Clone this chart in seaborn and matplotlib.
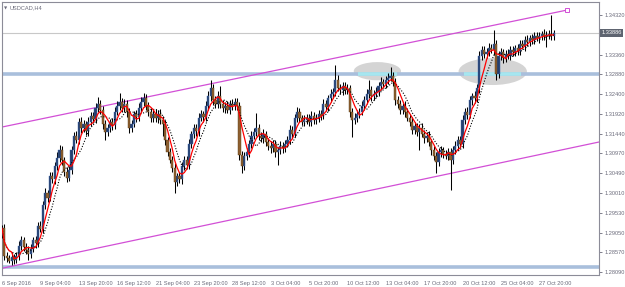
import numpy as np
import pandas as pd
import matplotlib
matplotlib.use('Agg')
import matplotlib.pyplot as plt
import seaborn as sns
from matplotlib.patches import Ellipse

# USDCAD H4, 6 Sep 2016 12:00 .. 28 Oct 2016 20:00
symbol = "USDCAD,H4"
first_open = 1.2900
closes = [
    1.2916, 1.2849, 1.2844, 1.2836, 1.2846, 1.2839, 1.2849, 1.2873, 1.2887, 1.2870,
    1.2863, 1.2853, 1.2866, 1.2887, 1.2880, 1.2921, 1.2915, 1.2972, 1.3001, 1.2990,
    1.3042, 1.3035, 1.3066, 1.3086, 1.3105, 1.3081, 1.3052, 1.3037, 1.3057, 1.3105,
    1.3139, 1.3130, 1.3173, 1.3158, 1.3168, 1.3150, 1.3173, 1.3188, 1.3180, 1.3207,
    1.3217, 1.3202, 1.3168, 1.3149, 1.3158, 1.3173, 1.3165, 1.3197, 1.3212, 1.3221,
    1.3207, 1.3217, 1.3197, 1.3158, 1.3168, 1.3192, 1.3185, 1.3207, 1.3221, 1.3231,
    1.3212, 1.3197, 1.3183, 1.3192, 1.3183, 1.3192, 1.3178, 1.3168, 1.3129, 1.3100,
    1.3081, 1.3062, 1.3028, 1.3042, 1.3035, 1.3066, 1.3081, 1.3070, 1.3120, 1.3144,
    1.3158, 1.3150, 1.3183, 1.3192, 1.3185, 1.3212, 1.3236, 1.3255, 1.3226, 1.3217,
    1.3236, 1.3217, 1.3207, 1.3212, 1.3202, 1.3217, 1.3212, 1.3221, 1.3212, 1.3093,
    1.3066, 1.3091, 1.3100, 1.3120, 1.3139, 1.3149, 1.3158, 1.3139, 1.3134, 1.3144,
    1.3125, 1.3115, 1.3110, 1.3120, 1.3100, 1.3105, 1.3115, 1.3110, 1.3120, 1.3129,
    1.3154, 1.3145, 1.3183, 1.3197, 1.3183, 1.3173, 1.3178, 1.3183, 1.3173, 1.3188,
    1.3178, 1.3183, 1.3192, 1.3188, 1.3217, 1.3210, 1.3231, 1.3241, 1.3246, 1.3275,
    1.3255, 1.3250, 1.3260, 1.3250, 1.3255, 1.3197, 1.3178, 1.3183, 1.3192, 1.3197,
    1.3212, 1.3226, 1.3241, 1.3250, 1.3236, 1.3241, 1.3246, 1.3260, 1.3270, 1.3265,
    1.3275, 1.3280, 1.3284, 1.3270, 1.3226, 1.3217, 1.3202, 1.3212, 1.3197, 1.3183,
    1.3173, 1.3154, 1.3163, 1.3149, 1.3158, 1.3144, 1.3134, 1.3139, 1.3125, 1.3105,
    1.3091, 1.3076, 1.3100, 1.3105, 1.3096, 1.3091, 1.3100, 1.3081, 1.3105, 1.3115,
    1.3129, 1.3120, 1.3178, 1.3197, 1.3190, 1.3226, 1.3236, 1.3230, 1.3255, 1.3333,
    1.3347, 1.3338, 1.3342, 1.3352, 1.3347, 1.3362, 1.3289, 1.3333, 1.3342, 1.3328,
    1.3338, 1.3333, 1.3347, 1.3342, 1.3352, 1.3345, 1.3362, 1.3357, 1.3372, 1.3367,
    1.3376, 1.3372, 1.3381, 1.3376, 1.3381, 1.3386, 1.3381, 1.3384, 1.3386, 1.3381,
    1.3388,
]
# wick lengths in pips above / below the candle body
upper_wick = [
    8, 10, 9, 7, 11, 8, 10, 12, 9, 8,   10, 9, 11, 8, 10, 9, 12, 10, 11, 8,
    10, 9, 11, 15, 12, 10, 8, 11, 10, 9, 10, 12, 9, 11, 10, 8, 11, 10, 9, 12,
    16, 10, 9, 11, 10, 8, 10, 12, 11, 22, 10, 12, 9, 10, 11, 8, 10, 11, 12, 12,
    10, 9, 11, 10, 12, 10, 12, 9, 10, 8, 10, 9, 11, 8, 10, 11, 9, 10, 11, 8,
    10, 9, 11, 10, 8, 11, 12, 20, 10, 9, 11, 25, 10, 9, 11, 10, 12, 11, 10, 9,
    10, 9, 11, 10, 12, 10, 37, 9, 10, 11, 8, 10, 11, 9, 10, 8, 11, 10, 9, 10,
    11, 10, 9, 12, 10, 8, 11, 10, 9, 11, 10, 9, 11, 10, 12, 10, 8, 11, 10, 36,
    12, 10, 11, 9, 10, 8, 10, 11, 9, 10, 11, 10, 12, 25, 10, 9, 11, 10, 12, 8,
    10, 11, 22, 10, 9, 11, 10, 8, 11, 10, 9, 11, 10, 8, 10, 12, 9, 10, 11, 8,
    10, 9, 11, 10, 8, 10, 11, 9, 10, 11, 10, 9, 11, 10, 12, 10, 8, 11, 10, 12,
    10, 11, 9, 12, 10, 34, 9, 11, 10, 8, 10, 11, 9, 10, 8, 11, 10, 9, 10, 11,
    8, 10, 9, 11, 10, 8, 11, 10, 9, 46, 8,
]
lower_wick = [
    8, 10, 11, 5, 10, 9, 8, 10, 11, 10,   9, 14, 10, 8, 11, 10, 9, 12, 10, 11,
    8, 10, 11, 9, 10, 12, 11, 10, 8, 11,  10, 9, 11, 12, 10, 8, 11, 10, 9, 10,
    11, 10, 12, 20, 10, 9, 11, 10, 8, 11, 10, 9, 11, 12, 10, 8, 11, 10, 9, 10,
    11, 10, 9, 11, 10, 12, 10, 30, 11, 10, 8, 11, 27, 10, 9, 11, 10, 8, 11, 10,
    9, 11, 10, 8, 11, 10, 9, 11, 12, 10,  9, 11, 10, 12, 8, 10, 11, 9, 10, 12,
    17, 10, 9, 11, 10, 8, 11, 10, 9, 11,  10, 9, 11, 10, 12, 31, 9, 11, 10, 8,
    10, 11, 9, 10, 11, 8, 10, 11, 9, 10,  11, 9, 10, 11, 8, 10, 11, 9, 10, 11,
    8, 10, 11, 9, 10, 12, 41, 9, 11, 10,  8, 11, 10, 9, 11, 10, 8, 11, 10, 9,
    10, 11, 8, 10, 12, 11, 9, 10, 11, 8,  10, 11, 9, 10, 44, 8, 11, 10, 9, 11,
    10, 27, 9, 11, 10, 8, 11, 73, 10, 9,  11, 10, 9, 11, 10, 8, 11, 10, 9, 11,
    10, 9, 11, 10, 8, 11, 14, 10, 9, 11,  10, 8, 11, 10, 9, 11, 10, 8, 11, 10,
    9, 11, 10, 8, 11, 10, 9, 26, 10, 9,  10,
]
price_ticks = [1.34320, 1.33840, 1.33360, 1.32880, 1.32400, 1.31920, 1.31440,
               1.30970, 1.30490, 1.30010, 1.29530, 1.29050, 1.28570, 1.28090]
time_labels = ["6 Sep 2016", "9 Sep 04:00", "13 Sep 20:00", "16 Sep 12:00",
               "21 Sep 04:00", "23 Sep 20:00", "28 Sep 12:00", "3 Oct 04:00",
               "5 Oct 20:00", "10 Oct 12:00", "13 Oct 04:00", "17 Oct 20:00",
               "20 Oct 12:00", "25 Oct 04:00", "27 Oct 20:00"]
bars_per_label = 16
last_price = 1.33886
# drawn objects: horizontal levels, channel lines (bar, price), zones (bar, price, bars wide, price tall)
levels = [1.3288, 1.2823]
channel_top = ([0.2, 235.6], [1.3161, 1.3444])
channel_bottom = ([0.2, 248.9], [1.2819, 1.31245])
zones = [(156.5, 1.3296, 19.7, 0.0044), (204.6, 1.3295, 28.5, 0.0065)]

df = pd.DataFrame({"close": closes})
df["bar"] = np.arange(len(df))
df["open"] = df["close"].shift(1).fillna(first_open)
df["high"] = df[["open", "close"]].max(axis=1) + np.array(upper_wick) / 1e4
df["low"] = df[["open", "close"]].min(axis=1) - np.array(lower_wick) / 1e4
df["ma_fast"] = df["close"].rolling(5, min_periods=1).mean()
df["ma_slow"] = df["close"].rolling(8, min_periods=1).mean()

sns.set_style("white")
plt.rcParams['font.family'] = ['Liberation Sans', 'DejaVu Sans']

fig = plt.figure(figsize=(6.25, 2.87), dpi=100)
ax = fig.add_axes([2 / 625, 12 / 287, 597 / 625, 273 / 287])

for cx, cy, w, h in zones:
    ax.add_patch(Ellipse((cx, cy), w, h, facecolor='#d4d4d4', edgecolor='none', zorder=1))
for lv in levels:
    ax.axhline(lv, color='#a9bfdc', lw=2.6, zorder=1.5)
for cx, cy, w, h in zones:
    ax.hlines(levels[0], cx - w * 0.42, cx + w * 0.42, color='#a6e6ef', lw=2.6, zorder=1.6)
ax.axhline(last_price, color='#c8c8c8', lw=0.8, zorder=1.4)

magenta = '#d24fd6'
ax.plot(*channel_top, color=magenta, lw=0.9, zorder=2)
ax.plot(channel_top[0][-1], channel_top[1][-1], marker='s', ms=3, mfc='white', mec=magenta, mew=0.7, zorder=2)
ax.plot(*channel_bottom, color=magenta, lw=0.9, zorder=2)

# candles
ax.vlines(df["bar"], df["low"], df["high"], color='black', lw=0.75, zorder=3)
bull = df[df["close"] >= df["open"]]
bear = df[df["close"] < df["open"]]
ax.bar(bull["bar"], bull["close"] - bull["open"], bottom=bull["open"], width=0.9,
       color='#27406e', edgecolor='#3d67b0', lw=0.3, zorder=4)
ax.bar(bear["bar"], bear["close"] - bear["open"], bottom=bear["open"], width=0.9,
       color='#8e6030', edgecolor='#5a3a14', lw=0.3, zorder=4)

sns.lineplot(data=df, x="bar", y="ma_slow", color='black', lw=0.8, linestyle=(0, (1, 1.5)), ax=ax, zorder=5)
sns.lineplot(data=df, x="bar", y="ma_fast", color='red', lw=0.9, ax=ax, zorder=6)

ax.set_xlim(0.2, 248.9)
ax.set_ylim(1.28025, 1.34635)
ax.set_xlabel("")
ax.set_ylabel("")

ax.yaxis.tick_right()
ax.set_yticks(price_ticks)
ax.set_yticklabels(["" if abs(p - 1.3384) < 1e-6 else f"{p:.5f}" for p in price_ticks])
ax.set_xticks(np.arange(len(time_labels)) * bars_per_label)
ax.set_xticklabels(time_labels, ha='left')
ax.tick_params(axis='both', labelsize=4.1, colors='#6a6a7a', length=2.5, width=0.6, pad=1.5)
ax.tick_params(axis='x', length=3)
for s in ax.spines.values():
    s.set_color('#8c8c98')
    s.set_linewidth(0.8)

ax.text(1.004, last_price, f"{last_price:.5f}", transform=ax.get_yaxis_transform(),
        fontsize=4.1, color='white', va='center', ha='left',
        bbox=dict(boxstyle='square,pad=0.2', facecolor='#5e6470', edgecolor='none'))
ax.text(0.003, 0.985, "\u25bc", transform=ax.transAxes, fontsize=3, color='#6a6a7a',
        va='top', ha='left', family=['DejaVu Sans'])
ax.text(0.013, 0.988, symbol, transform=ax.transAxes, fontsize=4.1, color='#6a6a7a',
        va='top', ha='left')

fig.savefig("out.png", dpi=100)
